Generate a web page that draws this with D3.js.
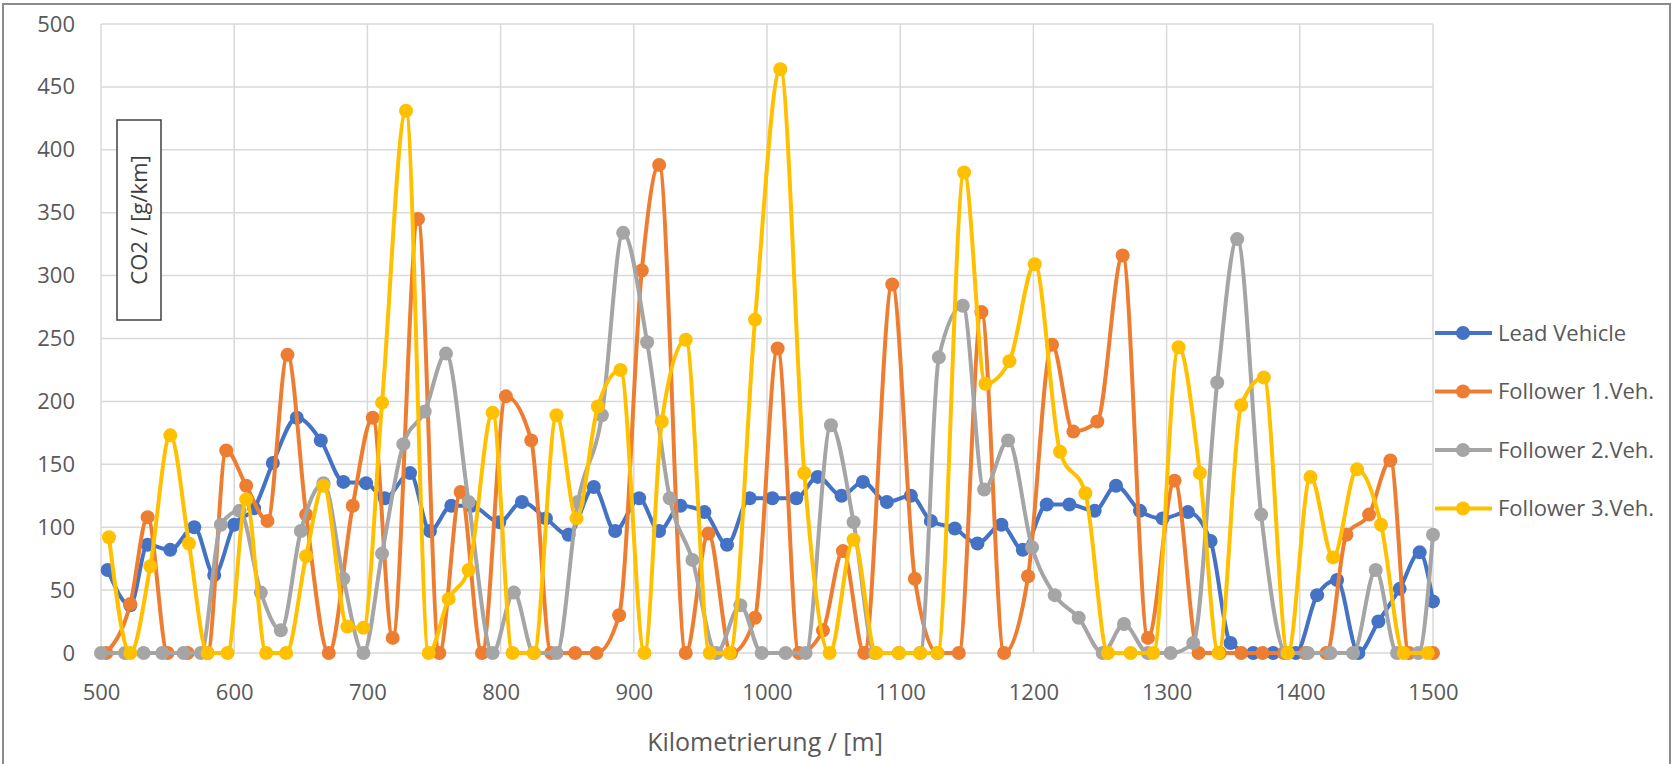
<!DOCTYPE html>
<html>
<head>
<meta charset="utf-8">
<script src="https://d3js.org/d3.v7.min.js"></script>
<style>
  body { margin: 0; background: #fff; }
  text { font-family: "Open Sans", "Noto Sans", sans-serif; }
</style>
</head>
<body>
<div id="chart"></div>
<script>
  // distance [m] and CO2 [g/km] per vehicle
  var leadKm  = [505,522,535,552,570,585,600,615,629,647,665,682,699,713,732,747,763,778,799,816,834,851,870,886,904,919,935,953,970,987,1004,1022,1038,1056,1072,1090,1108,1123,1141,1158,1176,1192,1210,1227,1246,1262,1280,1297,1316,1333,1348,1365,1380,1397,1413,1428,1444,1459,1475,1490,1500];
  var leadCO2 = [66,38,86,82,100,62,102,115,151,187,169,136,135,123,143,97,117,117,104,120,107,94,132,97,123,97,117,112,86,123,123,123,140,125,136,120,125,105,99,87,102,82,118,118,113,133,113,107,112,89,8,0,0,0,46,58,0,25,51,80,41];

  var f1Km  = [504,522,535,550,565,580,594,609,625,640,654,671,689,704,719,738,754,770,786,804,823,838,856,872,889,906,919,939,956,973,991,1008,1024,1042,1057,1073,1094,1111,1128,1144,1161,1178,1196,1214,1230,1248,1267,1286,1306,1324,1340,1356,1372,1388,1404,1420,1435,1452,1468,1482,1500];
  var f1CO2 = [0,39,108,0,0,0,161,133,105,237,110,0,117,187,12,345,0,128,0,204,169,0,0,0,30,304,388,0,95,0,28,242,0,18,81,0,293,59,0,0,271,0,61,245,176,184,316,12,137,0,0,0,0,0,0,0,94,110,153,0,0];

  var f2Km  = [500,518,532,546,562,575,590,604,620,635,650,667,682,697,711,727,743,759,776,794,810,825,842,858,876,892,910,927,944,962,980,996,1014,1029,1048,1065,1081,1099,1115,1129,1147,1163,1181,1199,1216,1234,1252,1268,1286,1303,1320,1338,1353,1371,1390,1406,1423,1440,1457,1473,1489,1500];
  var f2CO2 = [0,0,0,0,0,0,102,113,48,18,97,135,59,0,79,166,192,238,120,0,48,0,0,120,189,334,247,123,74,0,38,0,0,0,181,104,0,0,0,235,276,130,169,84,46,28,0,23,0,0,8,215,329,110,0,0,0,0,66,0,0,94];

  var f3Km  = [506,522,537,552,566,580,595,609,624,639,654,667,685,697,711,729,746,761,776,794,809,825,842,857,873,890,908,921,939,957,972,991,1010,1028,1047,1065,1082,1099,1115,1128,1148,1164,1182,1201,1220,1239,1256,1273,1290,1309,1325,1339,1356,1373,1391,1408,1425,1443,1461,1478,1496];
  var f3CO2 = [92,0,69,173,87,0,0,122,0,0,77,133,21,20,199,431,0,43,66,191,0,0,189,107,196,225,0,184,249,0,0,265,464,143,0,90,0,0,0,0,382,214,232,309,160,127,0,0,0,243,143,0,197,219,0,140,76,146,102,0,0];

  var seriesNames  = ["Lead Vehicle", "Follower 1.Veh.", "Follower 2.Veh.", "Follower 3.Veh."];
  var seriesColors = ["#4472C4", "#ED7D31", "#A5A5A5", "#FFC000"];
  var xTicks = [500,600,700,800,900,1000,1100,1200,1300,1400,1500];
  var yTicks = [0,50,100,150,200,250,300,350,400,450,500];

  var width = 1677, height = 764;
  var margin = { top: 24, right: 244, bottom: 111, left: 101 };

  var series = [
    { name: seriesNames[0], color: seriesColors[0], km: leadKm, co2: leadCO2 },
    { name: seriesNames[1], color: seriesColors[1], km: f1Km,   co2: f1CO2 },
    { name: seriesNames[2], color: seriesColors[2], km: f2Km,   co2: f2CO2 },
    { name: seriesNames[3], color: seriesColors[3], km: f3Km,   co2: f3CO2 }
  ];

  var svg = d3.select("#chart")
    .append("svg")
    .attr("width", width)
    .attr("height", height);

  // outer chart frame
  svg.append("rect")
    .attr("x", 3).attr("y", 4)
    .attr("width", 1667).attr("height", 800)
    .attr("fill", "white")
    .attr("stroke", "#8c8c8c")
    .attr("stroke-width", 2);

  var x = d3.scaleLinear().domain([500, 1500]).range([margin.left, width - margin.right]);
  var y = d3.scaleLinear().domain([0, 500]).range([height - margin.bottom, margin.top]);

  // gridlines
  svg.append("g")
    .selectAll("line.h")
    .data(yTicks)
    .enter().append("line")
    .attr("x1", x(500)).attr("x2", x(1500))
    .attr("y1", function (d) { return y(d); })
    .attr("y2", function (d) { return y(d); })
    .attr("stroke", "#d9d9d9")
    .attr("stroke-width", 1.5);

  svg.append("g")
    .selectAll("line.v")
    .data(xTicks)
    .enter().append("line")
    .attr("y1", y(0)).attr("y2", y(500))
    .attr("x1", function (d) { return x(d); })
    .attr("x2", function (d) { return x(d); })
    .attr("stroke", "#d9d9d9")
    .attr("stroke-width", 1.5);

  // axes (labels only, like Excel)
  var xAxis = svg.append("g")
    .attr("transform", "translate(0," + (y(0) + 28) + ")")
    .call(d3.axisBottom(x).tickValues(xTicks).tickSize(0).tickFormat(d3.format("d")));
  xAxis.select(".domain").remove();
  xAxis.selectAll("text").attr("font-size", 22).attr("fill", "#595959");

  var yAxis = svg.append("g")
    .attr("transform", "translate(" + (x(500) - 23) + ",0)")
    .call(d3.axisLeft(y).tickValues(yTicks).tickSize(0).tickFormat(d3.format("d")));
  yAxis.select(".domain").remove();
  yAxis.selectAll("text").attr("font-size", 22).attr("fill", "#595959");

  // axis titles
  svg.append("text")
    .attr("x", 765)
    .attr("y", 751)
    .attr("text-anchor", "middle")
    .attr("font-size", 25)
    .attr("fill", "#595959")
    .text("Kilometrierung / [m]");

  var yt = svg.append("g").attr("transform", "translate(139,220) rotate(-90)");
  yt.append("rect")
    .attr("x", -100).attr("y", -22)
    .attr("width", 200).attr("height", 44)
    .attr("fill", "white")
    .attr("stroke", "#404040")
    .attr("stroke-width", 1.5);
  yt.append("text")
    .attr("text-anchor", "middle")
    .attr("dy", "0.35em")
    .attr("font-size", 22)
    .attr("fill", "#404040")
    .text("CO2 / [g/km]");

  // lines + markers
  var line = d3.line()
    .x(function (d) { return x(d[0]); })
    .y(function (d) { return y(d[1]); })
    .curve(d3.curveMonotoneX);

  series.forEach(function (s) {
    var pts = s.km.map(function (k, i) { return [k, s.co2[i]]; });
    var g = svg.append("g");
    g.append("path")
      .datum(pts)
      .attr("d", line)
      .attr("fill", "none")
      .attr("stroke", s.color)
      .attr("stroke-width", 4)
      .attr("stroke-linejoin", "round");
    g.selectAll("circle")
      .data(pts)
      .enter().append("circle")
      .attr("cx", function (d) { return x(d[0]); })
      .attr("cy", function (d) { return y(d[1]); })
      .attr("r", 7)
      .attr("fill", s.color);
  });

  // legend
  var legend = svg.append("g").attr("transform", "translate(1435,333)");
  series.forEach(function (s, i) {
    var row = legend.append("g").attr("transform", "translate(0," + i * 58.5 + ")");
    row.append("line")
      .attr("x1", 0).attr("x2", 57)
      .attr("stroke", s.color).attr("stroke-width", 4);
    row.append("circle")
      .attr("cx", 28).attr("r", 7).attr("fill", s.color);
    row.append("text")
      .attr("x", 63).attr("dy", "0.35em")
      .attr("font-size", 22)
      .attr("fill", "#595959")
      .text(s.name);
  });
</script>
</body>
</html>
